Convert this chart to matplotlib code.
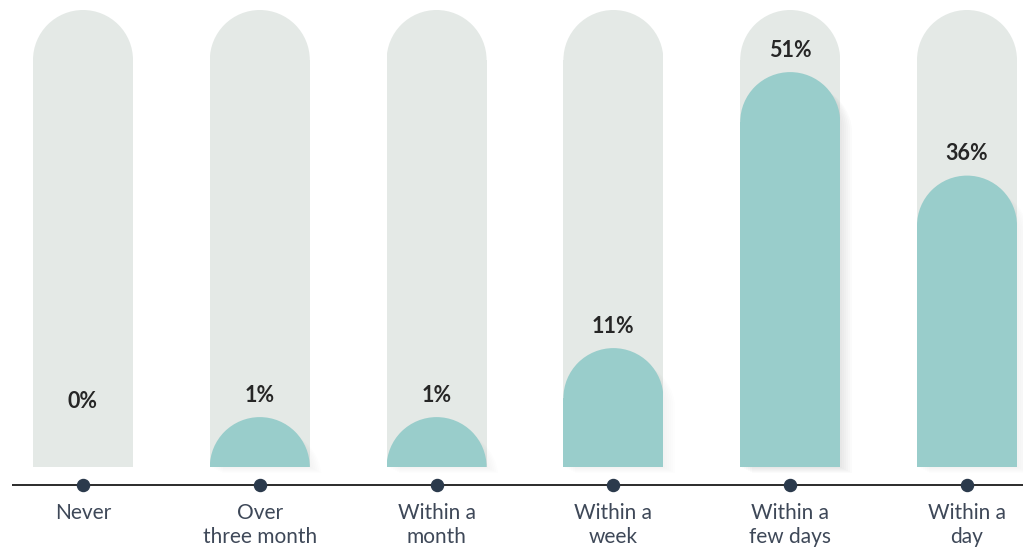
import numpy as np
import matplotlib.pyplot as plt
from matplotlib.patches import Rectangle, Ellipse

# Data
categories = ["Never", "Over\nthree month", "Within a\nmonth", "Within a\nweek",
              "Within a\nfew days", "Within a\nday"]
values = [0, 1, 1, 11, 51, 36]
value_labels = ["0%", "1%", "1%", "11%", "51%", "36%"]

# Colours
bg_col = "#E4E9E6"
bar_col = "#99CDCB"
line_col = "#1A1A1A"
dot_col = "#2B3A4C"
text_col = "#3E4858"
pct_col = "#262626"

plt.rcParams['font.family'] = ['Lato', 'DejaVu Sans']

W, H, DPI = 1023, 550, 100
fig = plt.figure(figsize=(W / DPI, H / DPI), dpi=DPI)
ax = fig.add_axes([0, 0, 1, 1])

# scale: x unit = one category step, y unit = one percent
px_x = 176.8          # pixels per category
px_y = 6.9            # pixels per percent
x0_px = 83            # pixel of first category
base_px = 467         # pixel row of bar bottoms (from top)
ax.set_xlim(-x0_px / px_x, (W - x0_px) / px_x)
ax.set_ylim(-(H - base_px) / px_y, base_px / px_y)
ax.axis("off")

rx = 50 / px_x        # cap radius in x units
ry = 50 / px_y        # cap radius in y units
cap_off = 43 / px_y   # visual offset so small values still show a cap
bg_top = (base_px - 10) / px_y


def rounded_bar(x, top, color, z, bottom=0, alpha=1.0):
    body = max(top - ry - bottom, 0)
    ax.add_patch(Rectangle((x - rx, bottom), 2 * rx, body, facecolor=color,
                           edgecolor="none", zorder=z, alpha=alpha))
    e = Ellipse((x, top - ry), 2 * rx, 2 * ry, facecolor=color,
                edgecolor="none", zorder=z, alpha=alpha)
    ax.add_patch(e)
    e.set_clip_path(Rectangle((x - rx, max(top - ry, bottom)), 2 * rx, 200,
                              transform=ax.transData))


for i, v in enumerate(values):
    rounded_bar(i, bg_top, bg_col, 1)
    top = v + cap_off
    if v > 0:
        # soft shadow, stronger on the tallest bar
        strength = 1.0 if v > 40 else 0.35
        for k in range(6):
            dx = (2 + 2 * k) / px_x
            dy = (1 + 1 * k) / px_y
            rounded_bar(i + dx, top - dy - 6 / px_y, "#5A6060", 2,
                        bottom=-dy, alpha=0.022 * strength)
        rounded_bar(i, top, bar_col, 3)
    ax.text(i, top + 22 / px_y, value_labels[i], ha="center", va="center",
            fontsize=15.5, fontweight="bold", color=pct_col, zorder=4)

# axis line with dots
line_y = -(485 - base_px) / px_y
ax.plot([-(x0_px - 12) / px_x, (W - x0_px) / px_x], [line_y, line_y],
        color=line_col, lw=1.3, zorder=4, solid_capstyle="butt")
ax.scatter(range(len(categories)), [line_y] * len(categories), s=75,
           color=dot_col, zorder=5)

for i, c in enumerate(categories):
    ax.text(i, -(503 - base_px) / px_y, c, ha="center", va="top",
            fontsize=15, color=text_col, linespacing=1.25)

fig.savefig("out.png", dpi=DPI)
